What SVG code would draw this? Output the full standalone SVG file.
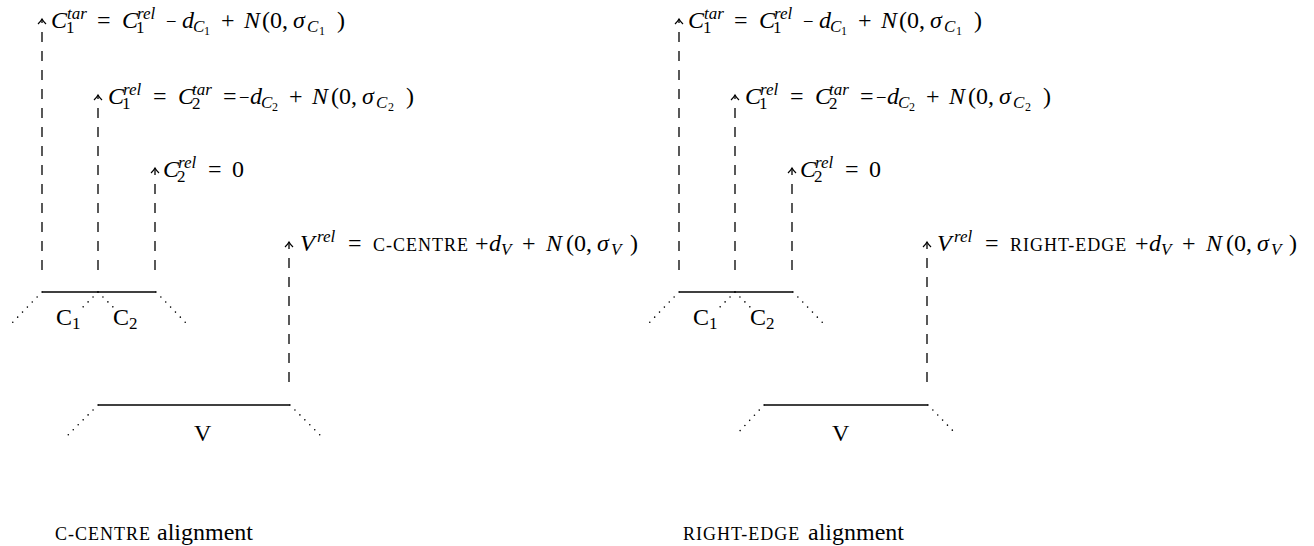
<svg xmlns="http://www.w3.org/2000/svg" width="1314" height="546" viewBox="0 0 1314 546">
<style>
.t{font-family:"Liberation Serif",serif;font-size:24px;fill:#000}
.i{font-style:italic}
.s{font-size:17px}
.ss{font-size:12px}
.m{font-size:17px}
.sc{font-size:18px;letter-spacing:1px}
.dash{stroke:#000;stroke-width:1.3;stroke-dasharray:10 9;fill:none;marker-end:url(#tip)}
.solid{stroke:#000;stroke-width:1.6;fill:none}
.dot{stroke:#000;stroke-width:1.6;stroke-linecap:round;stroke-dasharray:0 7;fill:none}
</style>
<defs>
<marker id="tip" markerWidth="14" markerHeight="14" refX="0" refY="0" orient="auto" markerUnits="userSpaceOnUse" viewBox="-7 -7 14 14">
<path d="M-5,-4 Q-2,-1 0,0 Q-2,1 -5,4" stroke="#000" stroke-width="1.2" fill="none"/>
</marker>
</defs>

<g id="panel-left">
<g id="connectors-left">
<line class="dash" x1="42" y1="270" x2="42" y2="19"/>
<line class="dash" x1="98" y1="270" x2="98" y2="95"/>
<line class="dash" x1="155" y1="270" x2="155" y2="168"/>
<line class="dash" x1="289" y1="382" x2="289" y2="242"/>
</g>
<g id="node-C-left">
<line class="solid" x1="42" y1="292" x2="156" y2="292"/>
<line class="dot" x1="42" y1="292" x2="12" y2="323"/>
<line class="dot" x1="156" y1="292" x2="186" y2="323"/>
<line class="dot" x1="98" y1="292" x2="81" y2="309"/>
<line class="dot" x1="98" y1="292" x2="116" y2="310"/>
<text class="t" y="325"><tspan x="56">C</tspan><tspan x="72" y="329" class="s">1</tspan></text>
<text class="t" y="325"><tspan x="113">C</tspan><tspan x="129" y="329" class="s">2</tspan></text>
</g>
<g id="node-V-left">
<line class="solid" x1="98" y1="405" x2="290" y2="405"/>
<line class="dot" x1="98" y1="405" x2="68" y2="435"/>
<line class="dot" x1="290" y1="405" x2="320" y2="435"/>
<text class="t" x="194" y="441">V</text>
</g>
<g id="label-C1tar-left">
<text class="t" y="28"><tspan x="51" class="i">C</tspan><tspan x="67" y="19" class="i s">tar</tspan><tspan x="66" y="33" class="s">1</tspan><tspan x="97" y="28">=</tspan><tspan x="122" class="i">C</tspan><tspan x="137" y="19" class="i s">rel</tspan><tspan x="136" y="33" class="s">1</tspan><tspan x="167" y="25" class="m">–</tspan><tspan x="182" y="28" class="i">d</tspan><tspan x="193" y="32" class="i s">C</tspan><tspan x="204" y="35" class="ss">1</tspan><tspan x="221" y="28">+</tspan><tspan x="244" class="i">N</tspan><tspan x="262">(0,</tspan><tspan x="293" class="i">σ</tspan><tspan x="307" y="32" class="i s">C</tspan><tspan x="319" y="35" class="ss">1</tspan><tspan x="337" y="28">)</tspan></text>
</g>
<g id="label-C1rel-left">
<text class="t" y="104"><tspan x="108" class="i">C</tspan><tspan x="123" y="95" class="i s">rel</tspan><tspan x="122" y="109" class="s">1</tspan><tspan x="153" y="104">=</tspan><tspan x="178" class="i">C</tspan><tspan x="192" y="95" class="i s">tar</tspan><tspan x="192" y="109" class="s">2</tspan><tspan x="223" y="104">=</tspan><tspan x="240" y="101" class="m">–</tspan><tspan x="250" y="104" class="i">d</tspan><tspan x="261" y="108" class="i s">C</tspan><tspan x="272" y="111" class="ss">2</tspan><tspan x="289" y="104">+</tspan><tspan x="312" class="i">N</tspan><tspan x="331">(0,</tspan><tspan x="362" class="i">σ</tspan><tspan x="376" y="108" class="i s">C</tspan><tspan x="388" y="111" class="ss">2</tspan><tspan x="406" y="104">)</tspan></text>
</g>
<g id="label-C2rel-left">
<text class="t" y="177"><tspan x="163" class="i">C</tspan><tspan x="178" y="168" class="i s">rel</tspan><tspan x="177" y="182" class="s">2</tspan><tspan x="208" y="177">=</tspan><tspan x="232">0</tspan></text>
</g>
<g id="label-Vrel-left">
<text class="t" y="251"><tspan x="300" class="i">V</tspan><tspan x="317" y="242" class="i s">rel</tspan><tspan x="348" y="251">=</tspan><tspan x="373" class="sc">C-CENTRE</tspan><tspan x="475" y="251">+</tspan><tspan x="489" class="i">d</tspan><tspan x="501" y="255" class="i s">V</tspan><tspan x="522" y="251">+</tspan><tspan x="546" class="i">N</tspan><tspan x="566">(0,</tspan><tspan x="597" class="i">σ</tspan><tspan x="611" y="255" class="i s">V</tspan><tspan x="630" y="251">)</tspan></text>
</g>
<text class="t" y="540"><tspan x="55" class="sc">C-CENTRE</tspan><tspan x="157">alignment</tspan></text>
</g>

<g id="panel-right" transform="translate(637,0)">
<g id="connectors-right">
<line class="dash" x1="42" y1="270" x2="42" y2="19"/>
<line class="dash" x1="98" y1="270" x2="98" y2="95"/>
<line class="dash" x1="155" y1="270" x2="155" y2="168"/>
<line class="dash" x1="290" y1="382" x2="290" y2="242"/>
</g>
<g id="node-C-right">
<line class="solid" x1="42" y1="292" x2="156" y2="292"/>
<line class="dot" x1="42" y1="292" x2="12" y2="323"/>
<line class="dot" x1="156" y1="292" x2="186" y2="323"/>
<line class="dot" x1="98" y1="292" x2="81" y2="309"/>
<line class="dot" x1="98" y1="292" x2="116" y2="310"/>
<text class="t" y="325"><tspan x="56">C</tspan><tspan x="72" y="329" class="s">1</tspan></text>
<text class="t" y="325"><tspan x="113">C</tspan><tspan x="129" y="329" class="s">2</tspan></text>
</g>
<g id="node-V-right">
<line class="solid" x1="127" y1="405" x2="291" y2="405"/>
<line class="dot" x1="127" y1="405" x2="99" y2="435"/>
<line class="dot" x1="291" y1="405" x2="320" y2="435"/>
<text class="t" x="195" y="441">V</text>
</g>
<g id="label-C1tar-right">
<text class="t" y="28"><tspan x="51" class="i">C</tspan><tspan x="67" y="19" class="i s">tar</tspan><tspan x="66" y="33" class="s">1</tspan><tspan x="97" y="28">=</tspan><tspan x="122" class="i">C</tspan><tspan x="137" y="19" class="i s">rel</tspan><tspan x="136" y="33" class="s">1</tspan><tspan x="167" y="25" class="m">–</tspan><tspan x="182" y="28" class="i">d</tspan><tspan x="193" y="32" class="i s">C</tspan><tspan x="204" y="35" class="ss">1</tspan><tspan x="221" y="28">+</tspan><tspan x="244" class="i">N</tspan><tspan x="262">(0,</tspan><tspan x="293" class="i">σ</tspan><tspan x="307" y="32" class="i s">C</tspan><tspan x="319" y="35" class="ss">1</tspan><tspan x="337" y="28">)</tspan></text>
</g>
<g id="label-C1rel-right">
<text class="t" y="104"><tspan x="108" class="i">C</tspan><tspan x="123" y="95" class="i s">rel</tspan><tspan x="122" y="109" class="s">1</tspan><tspan x="153" y="104">=</tspan><tspan x="178" class="i">C</tspan><tspan x="192" y="95" class="i s">tar</tspan><tspan x="192" y="109" class="s">2</tspan><tspan x="223" y="104">=</tspan><tspan x="240" y="101" class="m">–</tspan><tspan x="250" y="104" class="i">d</tspan><tspan x="261" y="108" class="i s">C</tspan><tspan x="272" y="111" class="ss">2</tspan><tspan x="289" y="104">+</tspan><tspan x="312" class="i">N</tspan><tspan x="331">(0,</tspan><tspan x="362" class="i">σ</tspan><tspan x="376" y="108" class="i s">C</tspan><tspan x="388" y="111" class="ss">2</tspan><tspan x="406" y="104">)</tspan></text>
</g>
<g id="label-C2rel-right">
<text class="t" y="177"><tspan x="163" class="i">C</tspan><tspan x="178" y="168" class="i s">rel</tspan><tspan x="177" y="182" class="s">2</tspan><tspan x="208" y="177">=</tspan><tspan x="232">0</tspan></text>
</g>
<g id="label-Vrel-right">
<text class="t" y="251"><tspan x="300" class="i">V</tspan><tspan x="317" y="242" class="i s">rel</tspan><tspan x="348" y="251">=</tspan><tspan x="373" class="sc">RIGHT-EDGE</tspan><tspan x="498" y="251">+</tspan><tspan x="512" class="i">d</tspan><tspan x="524" y="255" class="i s">V</tspan><tspan x="545" y="251">+</tspan><tspan x="569" class="i">N</tspan><tspan x="589">(0,</tspan><tspan x="620" class="i">σ</tspan><tspan x="634" y="255" class="i s">V</tspan><tspan x="652" y="251">)</tspan></text>
</g>
<text class="t" y="540"><tspan x="46" class="sc">RIGHT-EDGE</tspan><tspan x="171">alignment</tspan></text>
</g>
</svg>
